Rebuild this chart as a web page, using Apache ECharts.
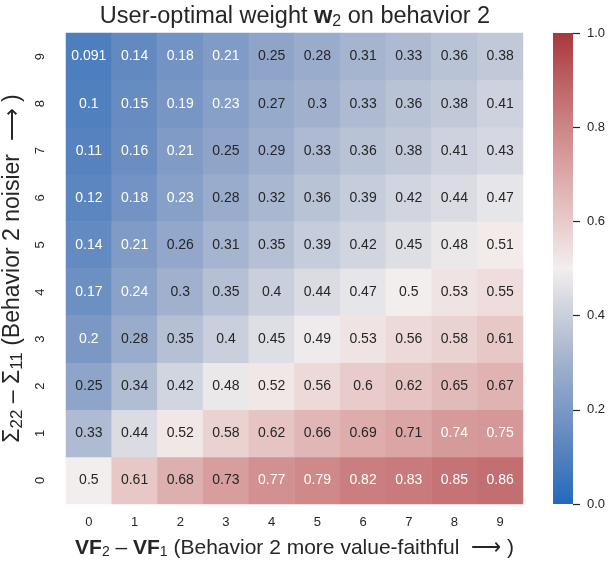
<!DOCTYPE html>
<html>
<head>
<meta charset="utf-8">
<script src="https://cdn.jsdelivr.net/npm/echarts@6/dist/echarts.min.js"></script>
<style>html,body{margin:0;padding:0;background:#fff;}#c{width:611px;height:561px;}</style>
</head>
<body>
<div id="c"></div>
<script>
// x: VF2 - VF1, y: Sigma22 - Sigma11
const xCategories = ['0','1','2','3','4','5','6','7','8','9'];
const yCategories = ['0','1','2','3','4','5','6','7','8','9'];
// weights[y][x]
const row0 = [0.5, 0.61, 0.68, 0.73, 0.77, 0.79, 0.82, 0.83, 0.85, 0.86];
const row1 = [0.333, 0.44, 0.52, 0.58, 0.62, 0.66, 0.69, 0.71, 0.74, 0.75];
const row2 = [0.25, 0.34, 0.42, 0.48, 0.52, 0.56, 0.6, 0.62, 0.65, 0.67];
const row3 = [0.2, 0.28, 0.35, 0.4, 0.45, 0.49, 0.53, 0.56, 0.58, 0.61];
const row4 = [0.167, 0.24, 0.3, 0.35, 0.4, 0.44, 0.47, 0.5, 0.53, 0.55];
const row5 = [0.143, 0.21, 0.26, 0.31, 0.35, 0.39, 0.42, 0.45, 0.48, 0.51];
const row6 = [0.124, 0.18, 0.23, 0.28, 0.32, 0.36, 0.39, 0.42, 0.44, 0.47];
const row7 = [0.111, 0.16, 0.21, 0.25, 0.29, 0.33, 0.36, 0.38, 0.41, 0.43];
const row8 = [0.1, 0.15, 0.19, 0.23, 0.27, 0.3, 0.33, 0.36, 0.38, 0.41];
const row9 = [0.0909, 0.14, 0.18, 0.21, 0.25, 0.28, 0.31, 0.33, 0.36, 0.38];
const weights = [row0,row1,row2,row3,row4,row5,row6,row7,row8,row9];
const colorbarTicks = [0, 0.2, 0.4, 0.6, 0.8, 1.0];

// approx seaborn "vlag"
const vlag = ['#2369bd','#5180be','#7b98c5','#a1b1cd','#c9cfdc','#f3eeee','#e8cbca','#dca8a8','#cd8586','#bc6063','#a9373b'];

const data = [];
weights.forEach((row, yi) => row.forEach((v, xi) => {
  const dark = v >= 0.245 && v < 0.735;
  data.push({value: [xi, yi, v], label: {color: dark ? '#262626' : '#ffffff'}});
}));
const fmt = v => parseFloat(v.toPrecision(2)).toString();

const FONT = '"Liberation Sans", Arial, sans-serif';
const chart = echarts.init(document.getElementById('c'), null, {renderer: 'canvas'});
const gradStops = vlag.map((c, i) => ({offset: i / (vlag.length - 1), color: c}));

chart.setOption({
  animation: false,
  textStyle: {fontFamily: FONT},
  title: {
    text: '{n|User-optimal weight }{b|w}{s|2}{n| on behavior 2}',
    left: 290, top: -2, textAlign: 'center',
    textStyle: {
      fontWeight: 'normal',
      rich: {
        n: {fontSize: 23.5, color: '#262626', fontWeight: 'normal', fontFamily: FONT, lineHeight: 28},
        b: {fontSize: 23.5, color: '#262626', fontWeight: 'bold', fontFamily: FONT, lineHeight: 28},
        s: {fontSize: 16, color: '#262626', fontWeight: 'normal', fontFamily: FONT, lineHeight: 28, padding: [9, 0, 0, 0]}
      }
    }
  },
  grid: [
    {left: 66, top: 33, width: 457, height: 471, outerBoundsMode: 'none', containLabel: false},
    {left: 553, top: 33, width: 20, height: 471, outerBoundsMode: 'none', containLabel: false}
  ],
  xAxis: [
    {
      type: 'category', data: xCategories, gridIndex: 0,
      axisLine: {show: false}, axisTick: {show: false}, splitLine: {show: false},
      axisLabel: {color: '#262626', fontSize: 13, margin: 12, fontFamily: FONT},
      name: '{b|VF}{s|2}{n| \u2013 }{b|VF}{s|1}{n| (Behavior 2 more value-faithful  \u27F6 )}',
      nameLocation: 'middle', nameGap: 31,
      nameTextStyle: {
        rich: {
          n: {fontSize: 21, color: '#262626', fontFamily: FONT, lineHeight: 26},
          b: {fontSize: 21, color: '#262626', fontWeight: 'bold', fontFamily: FONT, lineHeight: 26},
          s: {fontSize: 14, color: '#262626', fontFamily: FONT, lineHeight: 26, padding: [9, 0, 0, 0]}
        }
      }
    },
    {type: 'category', data: ['c'], gridIndex: 1, show: false}
  ],
  yAxis: [
    {
      type: 'category', data: yCategories, gridIndex: 0,
      axisLine: {show: false}, axisTick: {show: false}, splitLine: {show: false},
      axisLabel: {color: '#262626', fontSize: 13, margin: 19, rotate: 90, fontFamily: FONT},
      name: '{n|\u03A3}{s|22}{n| \u2013 \u03A3}{s|11}{n| (Behavior 2 noisier  \u27F6 )}',
      nameLocation: 'middle', nameGap: 28, nameRotate: 90,
      nameTextStyle: {
        rich: {
          n: {fontSize: 23, color: '#262626', fontFamily: FONT, lineHeight: 26},
          s: {fontSize: 17, color: '#262626', fontFamily: FONT, lineHeight: 26, padding: [9, 0, 0, 0]}
        }
      }
    },
    {
      type: 'value', gridIndex: 1, min: 0, max: 1, interval: 0.2, position: 'right',
      axisLine: {show: false}, splitLine: {show: false},
      axisTick: {show: true, length: 7, lineStyle: {color: '#262626', width: 1.2}},
      axisLabel: {color: '#262626', fontSize: 13, margin: 14, fontFamily: FONT, formatter: v => v.toFixed(1)}
    }
  ],
  visualMap: {
    show: false, type: 'continuous', min: 0, max: 1, seriesIndex: 0, dimension: 2,
    inRange: {color: vlag}
  },
  series: [
    {
      type: 'heatmap', xAxisIndex: 0, yAxisIndex: 0, data: data,
      label: {show: true, fontSize: 14, fontFamily: FONT, formatter: p => fmt(p.value[2])},
      emphasis: {disabled: true}
    },
    {
      type: 'bar', xAxisIndex: 1, yAxisIndex: 1, data: [1], barWidth: '100%',
      itemStyle: {color: new echarts.graphic.LinearGradient(0, 1, 0, 0, gradStops)},
      silent: true
    }
  ]
});
</script>
</body>
</html>
